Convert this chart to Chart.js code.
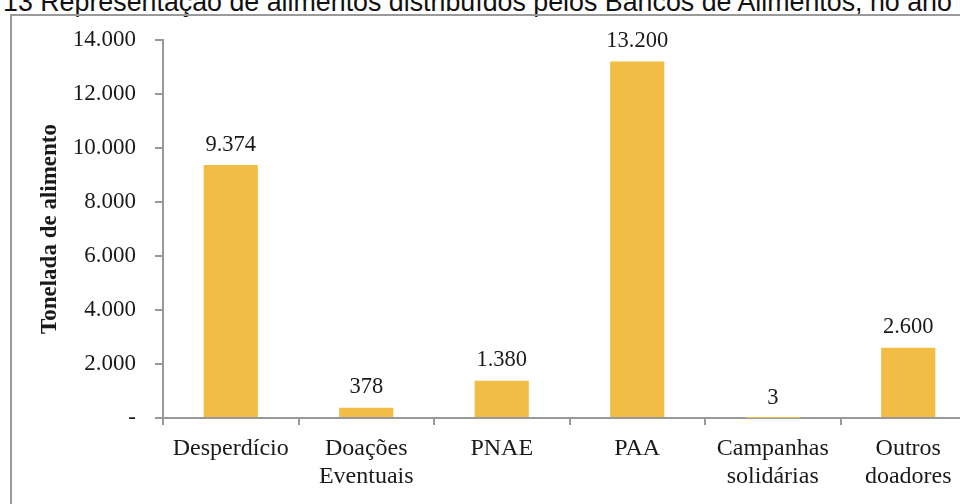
<!DOCTYPE html>
<html>
<head>
<meta charset="utf-8">
<script src="https://cdn.jsdelivr.net/npm/chart.js@4.4.1/dist/chart.umd.min.js"></script>
<style>
  html, body { margin: 0; padding: 0; background: #fff; overflow: hidden; }
  body { width: 960px; height: 504px; position: relative; }
  #titulo {
    position: absolute; left: 3px; top: -11px; white-space: nowrap;
    font-family: "Liberation Sans", Arial, sans-serif; font-size: 26.8px; line-height: 27px; color: #111;
  }
  #moldura {
    position: absolute; left: 10px; top: 14px; width: 1000px; height: 600px;
    border: 2px solid #9a9a9a; box-sizing: border-box;
  }
  #caixa { position: absolute; left: 0; top: 0; width: 1000px; height: 504px; }
</style>
</head>
<body>
<div id="titulo">13 Representação de alimentos distribuídos pelos Bancos de Alimentos, no ano</div>
<div id="moldura"></div>
<div id="caixa"><canvas id="grafico"></canvas></div>
<script>
const categorias = [['Desperdício'], ['Doações', 'Eventuais'], ['PNAE'], ['PAA'], ['Campanhas', 'solidárias'], ['Outros', 'doadores']];
const toneladas = [9374, 378, 1380, 13200, 3, 2600];
const ticksY = [0, 2000, 4000, 6000, 8000, 10000, 12000, 14000];

const serif = '"Liberation Serif", "Times New Roman", serif';

// formato brasileiro: 9.374
function milhar(v) {
  return String(Math.round(v)).replace(/\B(?=(\d{3})+(?!\d))/g, '.');
}

const rotulos = {
  id: 'rotulos',
  afterDatasetsDraw(chart) {
    const ctx = chart.ctx;
    const meta = chart.getDatasetMeta(0);
    ctx.save();
    ctx.font = '22.5px ' + serif;
    ctx.fillStyle = '#1a1a1a';
    ctx.textAlign = 'center';
    ctx.textBaseline = 'bottom';
    meta.data.forEach((bar, i) => {
      ctx.fillText(milhar(toneladas[i]), bar.x, bar.y - 9);
    });
    ctx.restore();
  }
};

const cor = '#F2BD45';

new Chart(document.getElementById('grafico'), {
  type: 'bar',
  data: {
    labels: categorias,
    datasets: [{
      data: toneladas,
      backgroundColor: cor,
      borderWidth: 0,
      categoryPercentage: 1,
      barPercentage: 0.4
    }]
  },
  options: {
    responsive: true,
    maintainAspectRatio: false,
    animation: false,
    layout: { padding: { top: 40, right: 24, bottom: 0, left: 0 } },
    plugins: { legend: { display: false }, tooltip: { enabled: false } },
    scales: {
      x: {
        afterFit(scale) { scale.height = 86; },
        grid: { drawOnChartArea: false, color: '#999', lineWidth: 2, tickLength: 7, offset: true },
        border: { color: '#999', width: 2 },
        ticks: { color: '#1a1a1a', font: { family: serif, size: 24, lineHeight: 1.17 }, padding: 10, maxRotation: 0, autoSkip: false }
      },
      y: {
        min: 0,
        max: 14000,
        afterFit(scale) { scale.width = 163; },
        afterBuildTicks(scale) { scale.ticks = ticksY.map(v => ({ value: v })); },
        grid: { drawOnChartArea: false, color: '#999', lineWidth: 2, tickLength: 8 },
        border: { color: '#999', width: 2 },
        ticks: {
          color: '#1a1a1a',
          font: { family: serif, size: 23 },
          padding: 19,
          callback: v => v === 0 ? '-' : milhar(v)
        },
        title: {
          display: true,
          text: 'Tonelada de alimento',
          color: '#1a1a1a',
          font: { family: serif, size: 23, weight: 'bold' },
          padding: { top: 36, bottom: 0 }
        }
      }
    }
  },
  plugins: [rotulos]
});
</script>
</body>
</html>
